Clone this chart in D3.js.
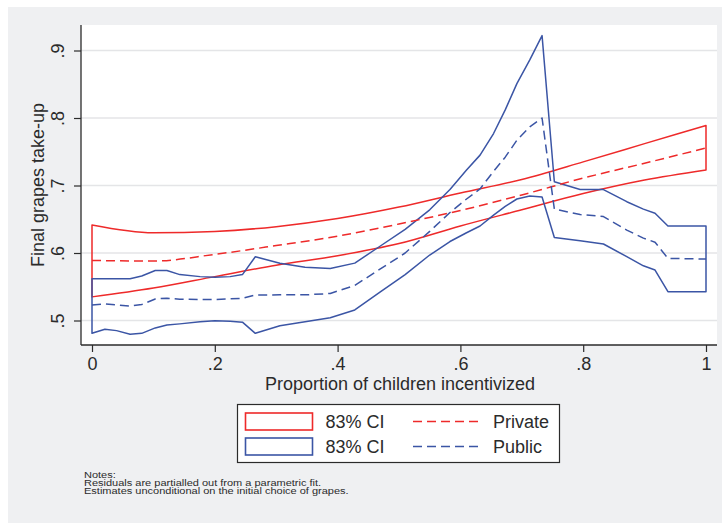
<!DOCTYPE html>
<html>
<head>
<meta charset="utf-8">
<script src="https://cdn.jsdelivr.net/npm/d3@7"></script>
<style>
  html, body { margin: 0; padding: 0; background: #ffffff; }
  svg { display: block; font-family: "Liberation Sans", Arial, Helvetica, sans-serif; }
</style>
</head>
<body>
<svg id="chart" width="722" height="523"></svg>
<script>
// Private (red): smooth parametric fit and its 83% band
const privateX     = [0, 0.1, 0.2, 0.3, 0.4, 0.5, 0.6, 0.7, 0.8, 0.9, 1.0];
const privateFit   = [0.589, 0.588, 0.598, 0.611, 0.625, 0.643, 0.663, 0.686, 0.711, 0.733, 0.7555];
const privateUpper = [0.6415, 0.630, 0.632, 0.639, 0.651, 0.668, 0.689, 0.709, 0.735, 0.762, 0.789];
const privateLower = [0.535, 0.548, 0.565, 0.582, 0.596, 0.614, 0.640, 0.664, 0.688, 0.708, 0.723];

// Public (blue): local fit and its 83% band
const publicX = [0, 0.021, 0.04, 0.062, 0.081, 0.103, 0.122, 0.143, 0.176, 0.2, 0.225, 0.245,
                 0.266, 0.306, 0.347, 0.388, 0.428, 0.469, 0.51, 0.55, 0.583, 0.61, 0.632,
                 0.654, 0.673, 0.692, 0.713, 0.733, 0.753, 0.795, 0.833, 0.871, 0.898, 0.917, 0.938, 1.0];
const publicFit = [0.523, 0.5244, 0.523, 0.5215, 0.5237, 0.5319, 0.533, 0.5316, 0.531, 0.531, 0.532, 0.533,
                   0.5378, 0.538, 0.538, 0.540, 0.552, 0.576, 0.600, 0.632, 0.660, 0.680, 0.695,
                   0.721, 0.742, 0.767, 0.787, 0.800, 0.665, 0.657, 0.654, 0.634, 0.622, 0.616, 0.592, 0.591];
const publicUpper = [0.562, 0.562, 0.562, 0.562, 0.566, 0.574, 0.574, 0.568, 0.565, 0.564, 0.565, 0.568,
                     0.5945, 0.5847, 0.579, 0.577, 0.585, 0.610, 0.635, 0.664, 0.694, 0.723, 0.745,
                     0.777, 0.812, 0.851, 0.886, 0.922, 0.7056, 0.694, 0.694, 0.676, 0.665, 0.659, 0.640, 0.640];
const publicLower = [0.481, 0.487, 0.485, 0.4796, 0.481, 0.489, 0.4933, 0.495, 0.498, 0.4997, 0.499, 0.4975,
                     0.481, 0.4923, 0.498, 0.504, 0.5156, 0.542, 0.568, 0.597, 0.617, 0.630, 0.640,
                     0.656, 0.669, 0.680, 0.6844, 0.683, 0.623, 0.618, 0.6133, 0.5946, 0.581, 0.5748, 0.5427, 0.5427];

const xTicks = [0, 0.2, 0.4, 0.6, 0.8, 1];
const yTicks = [0.5, 0.6, 0.7, 0.8, 0.9];

const xTitle = "Proportion of children incentivized";
const yTitle = "Final grapes take-up";
const legendItems = [
  { label: "83% CI",  kind: "band", color: "#ee2a2a" },
  { label: "Private", kind: "line", color: "#ee2a2a" },
  { label: "83% CI",  kind: "band", color: "#3b55a5" },
  { label: "Public",  kind: "line", color: "#3b55a5" }
];
const notes = [
  "Notes:",
  "Residuals are partialled out from a parametric fit.",
  "Estimates unconditional on the initial choice of grapes."
];

const RED = "#ee2a2a", BLUE = "#3b55a5", INK = "#2b2b2b";
const plot = { left: 81, right: 717, top: 25, bottom: 345 };

const svg = d3.select("#chart");

// graph region background
svg.append("rect").attr("x", 8).attr("y", 7).attr("width", 714).attr("height", 516).attr("fill", "#eff0f2");
svg.append("rect")
  .attr("x", plot.left).attr("y", plot.top)
  .attr("width", plot.right - plot.left).attr("height", plot.bottom - plot.top)
  .attr("fill", "#ffffff");

const x = d3.scaleLinear().domain([0, 1]).range([92, 706]);
const y = d3.scaleLinear().domain([0.5, 0.9]).range([320.5, 50.5]);

const stripZero = v => v === 0 ? "0" : v === 1 ? "1" : d3.format(".1f")(v).replace(/^0\./, ".");

// gridlines
svg.append("g").selectAll("line").data(yTicks).join("line")
  .attr("x1", plot.left).attr("x2", plot.right)
  .attr("y1", d => y(d)).attr("y2", d => y(d))
  .attr("stroke", "#e4e5e7").attr("stroke-width", 1.3);

// y axis
const gy = svg.append("g").attr("transform", `translate(${plot.left},0)`)
  .call(d3.axisLeft(y).tickValues(yTicks).tickSize(7).tickFormat(stripZero));
gy.select(".domain").remove();
gy.selectAll(".tick line").attr("stroke", INK).attr("stroke-width", 1.2);
gy.selectAll(".tick text")
  .attr("x", null).attr("dy", null)
  .attr("transform", "translate(-17.5,0) rotate(-90)")
  .attr("text-anchor", "middle")
  .attr("fill", INK).attr("font-size", 18);

// x axis
const gx = svg.append("g").attr("transform", `translate(0,${plot.bottom})`)
  .call(d3.axisBottom(x).tickValues(xTicks).tickSize(7).tickFormat(stripZero));
gx.select(".domain").remove();
gx.selectAll(".tick line").attr("stroke", INK).attr("stroke-width", 1.2);
gx.selectAll(".tick text")
  .attr("y", 25).attr("dy", null)
  .attr("fill", INK).attr("font-size", 18);

// axis lines spanning the plot region
svg.append("line").attr("x1", plot.left).attr("x2", plot.left).attr("y1", plot.top).attr("y2", plot.bottom)
  .attr("stroke", INK).attr("stroke-width", 1.3);
svg.append("line").attr("x1", plot.left).attr("x2", plot.right).attr("y1", plot.bottom).attr("y2", plot.bottom)
  .attr("stroke", INK).attr("stroke-width", 1.3);

// titles
svg.append("text").attr("x", (plot.left + plot.right) / 2 + 1).attr("y", 390)
  .attr("text-anchor", "middle").attr("font-size", 18).attr("fill", INK).text(xTitle);
svg.append("text").attr("transform", `translate(44,${(plot.top + plot.bottom) / 2}) rotate(-90)`)
  .attr("text-anchor", "middle").attr("font-size", 18).attr("fill", INK).text(yTitle);

// series
const priv = privateX.map((p, i) => ({ p, fit: privateFit[i], lo: privateLower[i], hi: privateUpper[i] }));
const pub  = publicX.map((p, i) => ({ p, fit: publicFit[i], lo: publicLower[i], hi: publicUpper[i] }));

const band = curve => d3.area().x(d => x(d.p)).y0(d => y(d.lo)).y1(d => y(d.hi)).curve(curve);
const fitLine = curve => d3.line().x(d => x(d.p)).y(d => y(d.fit)).curve(curve);

const layer = svg.append("g").attr("fill", "none").attr("stroke-width", 1.5).attr("stroke-linejoin", "round");
layer.append("path").attr("d", band(d3.curveMonotoneX)(priv)).attr("stroke", RED);
layer.append("path").attr("d", band(d3.curveLinear)(pub)).attr("stroke", BLUE);
layer.append("path").attr("d", fitLine(d3.curveMonotoneX)(priv)).attr("stroke", RED).attr("stroke-dasharray", "9,5");
layer.append("path").attr("d", fitLine(d3.curveLinear)(pub)).attr("stroke", BLUE).attr("stroke-dasharray", "9,5");

// legend
const lg = svg.append("g");
lg.append("rect").attr("x", 237.5).attr("y", 404.5).attr("width", 322).attr("height", 58)
  .attr("fill", "#ffffff").attr("stroke", INK).attr("stroke-width", 1.2);
const rowY = [421.5, 446.5];
legendItems.forEach((item, i) => {
  const row = i < 2 ? 0 : 1;
  const cy = rowY[row];
  if (item.kind === "band") {
    lg.append("rect").attr("x", 245.5).attr("y", cy - 8.5).attr("width", 67).attr("height", 17)
      .attr("fill", "#ffffff").attr("stroke", item.color).attr("stroke-width", 1.6);
    lg.append("text").attr("x", 325.5).attr("y", cy + 6.5).attr("font-size", 18).attr("fill", INK).text(item.label);
  } else {
    lg.append("line").attr("x1", 413).attr("x2", 481).attr("y1", cy).attr("y2", cy)
      .attr("stroke", item.color).attr("stroke-width", 1.5).attr("stroke-dasharray", "9,5");
    lg.append("text").attr("x", 493).attr("y", cy + 6.5).attr("font-size", 18).attr("fill", INK).text(item.label);
  }
});

// notes: small, tightly set lines under the legend (vertically condensed type)
const noteScale = 0.78;
svg.append("g").attr("transform", `translate(84,0) scale(1,${noteScale})`)
  .selectAll("text").data(notes).join("text")
  .attr("x", 0).attr("y", (d, i) => (478.5 + i * 7.6) / noteScale)
  .attr("font-size", 11).attr("fill", INK).text(d => d);
</script>
</body>
</html>
